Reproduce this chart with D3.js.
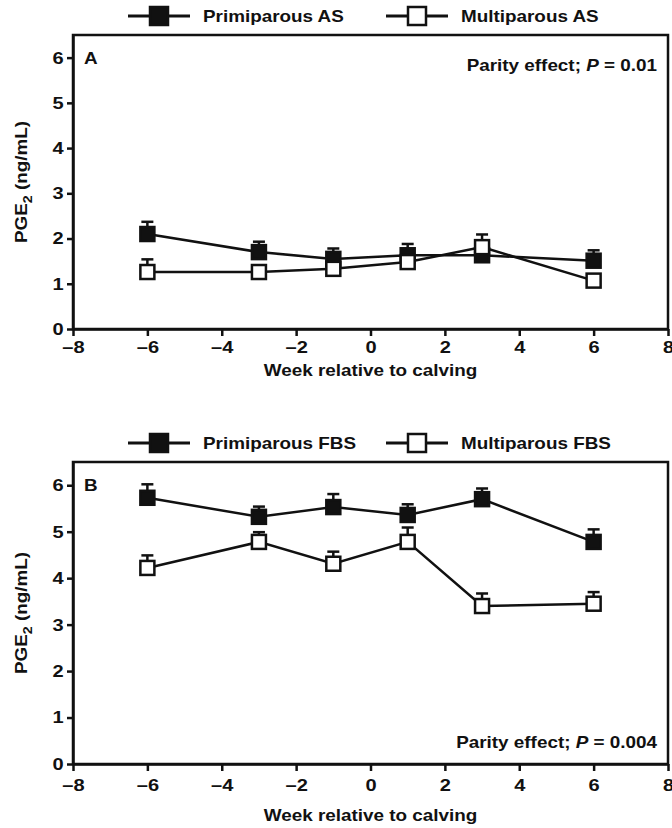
<!DOCTYPE html>
<html>
<head>
<meta charset="utf-8">
<script src="https://cdn.jsdelivr.net/npm/d3@7"></script>
<style>
  body { margin: 0; background: #fff; }
  text { font-family: "Liberation Sans", Arial, sans-serif; font-weight: bold; fill: #111; }
</style>
</head>
<body>
<svg id="chart" width="672" height="828"></svg>
<script>
// week relative to calving
const weeks = [-6, -3, -1, 1, 3, 6];

// panel A, PGE2 in AS (ng/mL), mean and SE
const asPrimi = [2.10, 1.70, 1.55, 1.63, 1.63, 1.51];
const asPrimiSE = [0.27, 0.23, 0.23, 0.25, 0.15, 0.23];
const asMulti = [1.26, 1.26, 1.33, 1.48, 1.81, 1.07];
const asMultiSE = [0.28, 0.08, 0.10, 0.10, 0.28, 0.10];

// panel B, PGE2 in FBS (ng/mL)
const fbsPrimi = [5.73, 5.32, 5.53, 5.36, 5.70, 4.78];
const fbsPrimiSE = [0.29, 0.22, 0.28, 0.23, 0.23, 0.27];
const fbsMulti = [4.22, 4.78, 4.31, 4.78, 3.40, 3.45];
const fbsMultiSE = [0.27, 0.21, 0.26, 0.31, 0.27, 0.25];

const xTicks = [-8, -6, -4, -2, 0, 2, 4, 6, 8];
const yTicks = [0, 1, 2, 3, 4, 5, 6];

const sx = 1.18;   // glyphs in the figure are a bit wider than Arial
const svg = d3.select("#chart");

function label(g, x, y, str, anchor) {
  return g.append("text")
    .attr("transform", `translate(${x},${y}) scale(${sx},1)`)
    .attr("text-anchor", anchor || "start")
    .style("font-size", "16px")
    .text(str);
}

function drawPanel(p) {
  const g = svg.append("g");
  const x = d3.scaleLinear().domain([-8, 8]).range([73, 668]);
  const y = d3.scaleLinear().domain([0, 6.5]).range([p.bottom, p.top]);

  // frame
  g.append("rect")
    .attr("x", x(-8)).attr("y", y(6.5))
    .attr("width", x(8) - x(-8)).attr("height", y(0) - y(6.5))
    .attr("fill", "none").attr("stroke", "#111").attr("stroke-width", 2.5);

  const xAxis = g.append("g")
    .attr("transform", `translate(0,${y(0)})`)
    .call(d3.axisBottom(x).tickValues(xTicks).tickSize(7).tickSizeOuter(0)
      .tickFormat(d => d < 0 ? "\u2013" + Math.abs(d) : d));
  const yAxis = g.append("g")
    .attr("transform", `translate(${x(-8)},0)`)
    .call(d3.axisLeft(y).tickValues(yTicks).tickSize(6).tickSizeOuter(0)
      .tickFormat(d3.format("d")));

  [xAxis, yAxis].forEach(a => {
    a.select(".domain").attr("stroke", "#111").attr("stroke-width", 2.5);
    a.selectAll(".tick line").attr("stroke", "#111").attr("stroke-width", 2.5);
    a.selectAll(".tick text")
      .style("font-size", "17px").style("font-family", null).attr("fill", "#111");
  });
  xAxis.selectAll(".tick text").attr("y", p.tickGap).attr("transform", `scale(${sx},1)`);
  yAxis.selectAll(".tick text").attr("x", -8).attr("transform", `scale(${sx},1)`);

  // axis titles
  label(g, (x(-8) + x(8)) / 2, y(0) + p.titleGap, "Week relative to calving", "middle");
  const yl = g.append("text")
    .attr("transform", `translate(27,${(y(0) + y(6.5)) / 2}) rotate(-90) scale(${sx},1)`)
    .attr("text-anchor", "middle")
    .style("font-size", "16px");
  yl.append("tspan").text("PGE");
  yl.append("tspan").attr("dy", 5).style("font-size", "12px").text("2");
  yl.append("tspan").attr("dy", -5).text(" (ng/mL)");

  // panel letter and parity note
  label(g, 84, y(6) + 6, p.letter);
  const note = g.append("text")
    .attr("transform", `translate(657,${p.noteY}) scale(${sx},1)`)
    .attr("text-anchor", "end")
    .style("font-size", "16px");
  note.append("tspan").text("Parity effect; ");
  note.append("tspan").style("font-style", "italic").text("P");
  note.append("tspan").text(" = " + p.pval);

  // series: primiparous first, multiparous on top
  const line = d3.line().x((d, i) => x(weeks[i])).y(d => y(d));
  p.series.forEach(s => {
    g.append("path").datum(s.mean)
      .attr("d", line)
      .attr("fill", "none").attr("stroke", "#111").attr("stroke-width", 2.5);

    const eb = g.append("g").selectAll("g").data(s.mean).join("g");
    eb.append("line")
      .attr("x1", (d, i) => x(weeks[i])).attr("x2", (d, i) => x(weeks[i]))
      .attr("y1", d => y(d)).attr("y2", (d, i) => y(d + s.se[i]))
      .attr("stroke", "#111").attr("stroke-width", 2.5);
    eb.append("line")
      .attr("x1", (d, i) => x(weeks[i]) - 6).attr("x2", (d, i) => x(weeks[i]) + 6)
      .attr("y1", (d, i) => y(d + s.se[i])).attr("y2", (d, i) => y(d + s.se[i]))
      .attr("stroke", "#111").attr("stroke-width", 2.5);

    g.append("g").selectAll("rect").data(s.mean).join("rect")
      .attr("x", (d, i) => x(weeks[i]) - 7).attr("y", d => y(d) - 7)
      .attr("width", 14).attr("height", 14)
      .attr("fill", s.fill).attr("stroke", "#111").attr("stroke-width", 2.5);
  });

  // legend above the frame
  p.series.forEach((s, k) => {
    const lx = [128, 386][k];
    const ly = p.legendY;
    g.append("line")
      .attr("x1", lx).attr("x2", lx + 62).attr("y1", ly).attr("y2", ly)
      .attr("stroke", "#111").attr("stroke-width", 3);
    g.append("rect")
      .attr("x", lx + 31 - 9).attr("y", ly - 9).attr("width", 18).attr("height", 18)
      .attr("fill", s.fill).attr("stroke", "#111").attr("stroke-width", 2.5);
    label(g, lx + 75, ly + 6, s.name);
  });
}

drawPanel({
  letter: "A", top: 35, bottom: 329, legendY: 16, tickGap: 12, titleGap: 47,
  noteY: 71, pval: "0.01",
  series: [
    { name: "Primiparous AS", mean: asPrimi, se: asPrimiSE, fill: "#111" },
    { name: "Multiparous AS", mean: asMulti, se: asMultiSE, fill: "#fff" }
  ]
});

drawPanel({
  letter: "B", top: 462, bottom: 764, legendY: 443, tickGap: 15, titleGap: 57,
  noteY: 748, pval: "0.004",
  series: [
    { name: "Primiparous FBS", mean: fbsPrimi, se: fbsPrimiSE, fill: "#111" },
    { name: "Multiparous FBS", mean: fbsMulti, se: fbsMultiSE, fill: "#fff" }
  ]
});
</script>
</body>
</html>
